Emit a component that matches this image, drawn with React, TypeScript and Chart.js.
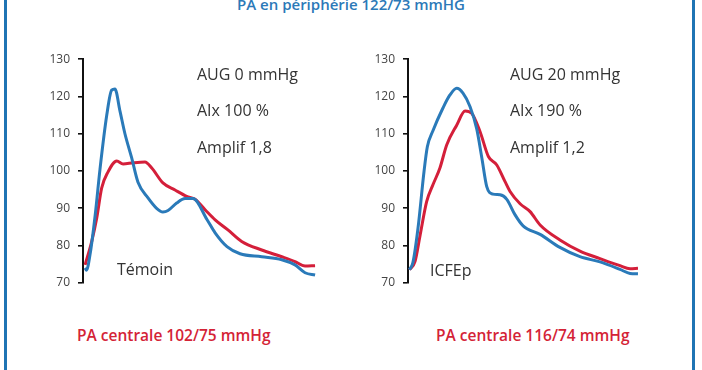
import React, { useEffect, useRef } from "react";
import { Chart, registerables } from "chart.js";
Chart.register(...registerables);

// ---- Data (time as % of cardiac cycle, pressure in mmHg) ----
const yTicks = [70, 80, 90, 100, 110, 120, 130];

const temoinTimeBlue = [0.9, 1.5, 3.0, 5.2, 7.3, 10.2, 12.3, 13.7, 15.9, 18.0, 20.9, 23.6, 27.9, 31.6, 34.3, 36.5, 40.2, 43.8, 47.2, 53.2, 56.7, 61.8, 67.4, 76.7, 85.3, 91.0, 95.3, 99.6];
const temoinPeripheral = [74.0, 73.4, 77.5, 88, 100.5, 115, 121.7, 122, 116, 110, 103.5, 97, 92.8, 90, 89, 89.4, 91.4, 92.6, 92.6, 87, 83.4, 79.7, 77.8, 77, 76.2, 74.8, 72.7, 72.1];

const temoinTimeRed = [0.9, 3.7, 5.9, 8.0, 10.7, 14.5, 17.2, 21.5, 26.6, 29.5, 34.3, 39.5, 44.5, 48.1, 52.4, 56.7, 62.2, 68.1, 76.7, 85.3, 91.0, 95.3, 99.6];
const temoinCentral = [74.8, 81, 87.4, 95.4, 99.7, 102.7, 101.9, 102.2, 102.4, 100.8, 96.8, 94.9, 93.2, 92.4, 89.6, 86.9, 84.2, 81.1, 78.8, 77, 75.7, 74.5, 74.6];

const icfepTimeBlue = [0.6, 2.1, 4.3, 6.9, 8.3, 10.7, 15.0, 18.0, 20.9, 23.6, 26.6, 29.5, 31.7, 33.8, 36.5, 39.5, 42.4, 45.9, 49.4, 56.7, 65.2, 73.8, 82.4, 91.0, 95.3, 98.7];
const icfepPeripheral = [73.5, 75.4, 84.7, 100, 106.5, 110.8, 116.9, 120.4, 122.2, 120.9, 117.3, 111.3, 103.5, 95.8, 93.8, 93.6, 92.4, 88.3, 85.3, 83, 79.5, 77, 75.6, 73.6, 72.5, 72.4];

const icfepTimeRed = [0.6, 3.0, 5.2, 8.0, 10.7, 13.7, 16.6, 20.9, 24.5, 27.3, 30.9, 34.5, 38.1, 41.6, 43.8, 48.1, 52.4, 56.7, 65.2, 73.8, 82.4, 91.0, 95.3, 98.7];
const icfepCentral = [73.5, 75.7, 82.8, 91.8, 96.3, 100.8, 107, 112.3, 116.1, 115.5, 110.6, 103.9, 101.6, 97.2, 94.5, 91.2, 89.1, 85.5, 81.5, 78.5, 76.5, 74.6, 73.8, 73.9];

const BLUE = "#2a7ab9";
const RED = "#d41f3a";
const FONT = "'Open Sans', 'DejaVu Sans', sans-serif";

type PanelProps = {
  left: number;
  tBlue: number[];
  yBlue: number[];
  tRed: number[];
  yRed: number[];
};

const CW = 273;
const CH = 254;

function Panel({ left, tBlue, yBlue, tRed, yRed }: PanelProps) {
  const ref = useRef<HTMLCanvasElement | null>(null);
  useEffect(() => {
    if (!ref.current) return;
    const chart = new Chart(ref.current, {
      type: "line",
      data: {
        datasets: [
          {
            label: "Périphérique",
            data: tBlue.map((t, i) => ({ x: t, y: yBlue[i] })),
            borderColor: BLUE,
            borderWidth: 3,
            pointRadius: 0,
            cubicInterpolationMode: "monotone",
            fill: false,
            clip: false as any,
          },
          {
            label: "Centrale",
            data: tRed.map((t, i) => ({ x: t, y: yRed[i] })),
            borderColor: RED,
            borderWidth: 3,
            pointRadius: 0,
            cubicInterpolationMode: "monotone",
            fill: false,
            clip: false as any,
          },
        ],
      },
      options: {
        animation: false,
        responsive: false,
        devicePixelRatio: 1,
        layout: { padding: { top: 12, bottom: 12, left: 0, right: 0 } },
        plugins: { legend: { display: false }, tooltip: { enabled: false }, title: { display: false } },
        scales: {
          x: { type: "linear", min: 0, max: 100, display: false },
          y: {
            min: 70,
            max: 130,
            afterFit: (s: any) => {
              s.width = 40;
            },
            afterBuildTicks: (s: any) => {
              s.ticks = yTicks.map((v) => ({ value: v }));
            },
            ticks: {
              color: "#444",
              padding: 8,
              font: { family: FONT, size: 12 },
            },
            grid: {
              display: true,
              drawOnChartArea: false,
              drawTicks: true,
              tickLength: 5,
              color: "#111",
              lineWidth: 1.6,
            },
            border: { display: true, color: "#111", width: 2 },
          },
        },
      },
    });
    return () => chart.destroy();
  }, []);
  return (
    <canvas
      ref={ref}
      width={CW}
      height={CH}
      style={{ position: "absolute", left, top: 44, width: CW, height: CH }}
    />
  );
}

const textStyle = (x: number, baseline: number, size: number, color: string, weight = 400): React.CSSProperties => ({
  position: "absolute",
  left: x,
  top: baseline - Math.round(size * 1.07) - 0,
  fontFamily: FONT,
  fontSize: size,
  lineHeight: `${Math.round(size * 1.36)}px`,
  color,
  fontWeight: weight,
  whiteSpace: "nowrap",
});

export default function App() {
  return (
    <div
      style={{
        position: "absolute",
        left: 0,
        top: 0,
        width: 702,
        height: 370,
        background: "#fff",
        overflow: "hidden",
      }}
    >
      <div style={{ position: "absolute", left: 4, top: 0, width: 3, height: 370, background: "#1f74b4" }} />
      <div style={{ position: "absolute", left: 692, top: 0, width: 3, height: 370, background: "#1f74b4" }} />
      <div
        style={{
          ...textStyle(0, 10, 15, "#2b79b8", 600),
          width: 702,
          left: 0,
          textAlign: "center",
        }}
      >
        PA en périphérie 122/73 mmHG
      </div>

      <Panel left={43} tBlue={temoinTimeBlue} yBlue={temoinPeripheral} tRed={temoinTimeRed} yRed={temoinCentral} />
      <Panel left={368} tBlue={icfepTimeBlue} yBlue={icfepPeripheral} tRed={icfepTimeRed} yRed={icfepCentral} />

      <div style={textStyle(197, 80, 16, "#333")}>AUG 0 mmHg</div>
      <div style={textStyle(197, 116, 16, "#333")}>AIx 100 %</div>
      <div style={textStyle(197, 153, 16, "#333")}>Amplif 1,8</div>
      <div style={textStyle(117, 275, 16, "#333")}>Témoin</div>

      <div style={textStyle(510, 80, 16, "#333")}>AUG 20 mmHg</div>
      <div style={textStyle(510, 116, 16, "#333")}>AIx 190 %</div>
      <div style={textStyle(510, 153, 16, "#333")}>Amplif 1,2</div>
      <div style={textStyle(430, 276, 16, "#333")}>ICFEp</div>

      <div style={textStyle(77, 342, 15.5, "#d42336", 600)}>PA centrale 102/75 mmHg</div>
      <div style={textStyle(436, 342, 15.5, "#d42336", 600)}>PA centrale 116/74 mmHg</div>
    </div>
  );
}
